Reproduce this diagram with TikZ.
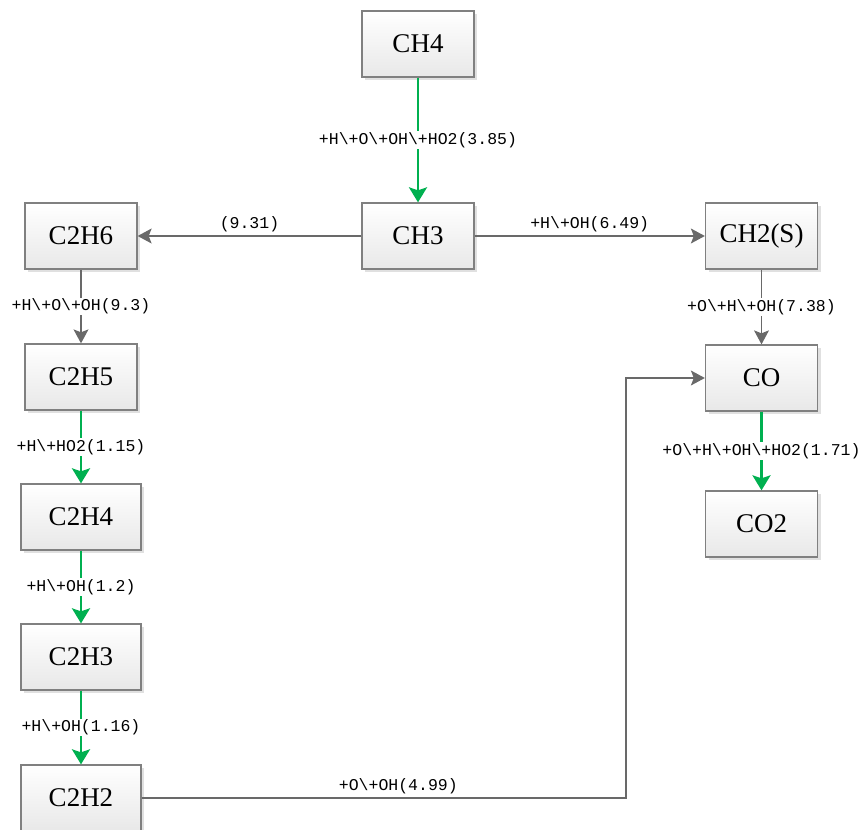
\documentclass[tikz,border=0pt]{standalone}
\usepackage{fontspec}
\setmainfont{Liberation Serif}
\newfontfamily\lblfont{Liberation Mono}
\usetikzlibrary{arrows.meta,shadows}
\definecolor{pathgreen}{RGB}{0,176,80}
\definecolor{pathgray}{RGB}{105,105,105}
\definecolor{boxline}{RGB}{128,128,128}
\begin{document}
\begin{tikzpicture}[x=1pt, y=-1pt,
  sp/.style={draw=boxline, line width=1.3pt, top color=white, bottom color=black!9,
    minimum width=112pt, minimum height=66pt, font=\fontsize{27}{27}\selectfont,
    drop shadow={shadow xshift=3pt, shadow yshift=-3pt, fill=black!12, opacity=1}},
  major/.style={draw=pathgreen, line width=2.6pt, -{Stealth[length=15pt, width=18pt, inset=3pt]}},
  minor/.style={draw=pathgray, line width=1.3pt, -{Stealth[length=14pt, width=15pt, inset=3pt]}},
  lbl/.style={font=\lblfont\fontsize{16.5}{17}\selectfont, fill=white, inner sep=1pt}]
\useasboundingbox (0,0) rectangle (863,830);
\node[sp] (ch4) at (418,44) {CH4};
\node[sp] (ch3) at (418,236) {CH3};
\node[sp] (c2h6) at (81,236) {C2H6};
\node[sp] (c2h5) at (81,377) {C2H5};
\node[sp, minimum width=120pt] (c2h4) at (81,517) {C2H4};
\node[sp, minimum width=120pt] (c2h3) at (81,657) {C2H3};
\node[sp, minimum width=120pt] (c2h2) at (81,798) {C2H2};
\node[sp] (ch2s) at (761.5,236) {CH2(S)};
\node[sp] (co) at (761.5,378) {CO};
\node[sp] (co2) at (761.5,524) {CO2};
\coordinate (turn1) at (626,798);
\coordinate (turn2) at (626,378);
\draw[major] (ch4) -- node[lbl] {+H\textbackslash+O\textbackslash+OH\textbackslash+HO2(3.85)} (ch3);
\draw[minor] (ch3) -- node[lbl, fill=none, above=2pt] {(9.31)} (c2h6);
\draw[minor] (ch3) -- node[lbl, fill=none, above=2pt] {+H\textbackslash+OH(6.49)} (ch2s);
\draw[minor] (c2h6) -- node[lbl] {+H\textbackslash+O\textbackslash+OH(9.3)} (c2h5);
\draw[major] (c2h5) -- node[lbl] {+H\textbackslash+HO2(1.15)} (c2h4);
\draw[major] (c2h4) -- node[lbl] {+H\textbackslash+OH(1.2)} (c2h3);
\draw[major] (c2h3) -- node[lbl] {+H\textbackslash+OH(1.16)} (c2h2);
\draw[minor] (ch2s) -- node[lbl] {+O\textbackslash+H\textbackslash+OH(7.38)} (co);
\draw[major] (co) -- node[lbl] {+O\textbackslash+H\textbackslash+OH\textbackslash+HO2(1.71)} (co2);
\draw[minor] (c2h2) -- node[lbl, fill=none, above=2pt, pos=0.53] {+O\textbackslash+OH(4.99)} (turn1) -- (turn2) -- (co);
\end{tikzpicture}
\end{document}
